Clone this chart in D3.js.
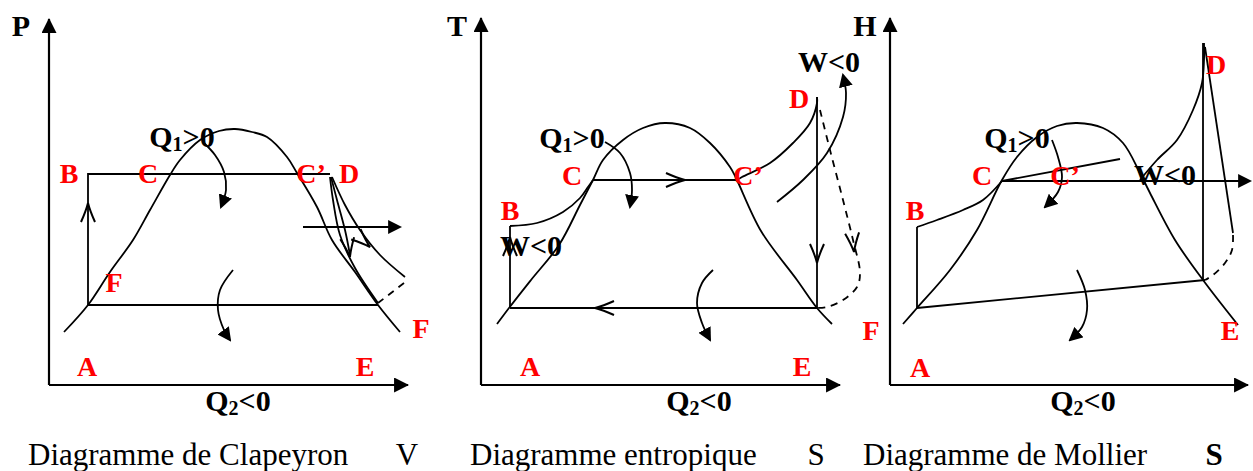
<!DOCTYPE html>
<html><head><meta charset="utf-8">
<script src="https://cdn.jsdelivr.net/npm/d3@7"></script>
<style>html,body{margin:0;padding:0;background:#fff;overflow:hidden}</style>
</head><body>
<svg id="c" width="1253" height="471"></svg>
<script>
// ---------- DATA (each panel in its own units: x from vertical axis, y up from horizontal axis) ----------
const axisNames = [["P","V"],["T","S"],["H","S"]];
const captions = ["Diagramme de Clapeyron","Diagramme entropique","Diagramme de Mollier"];
const axisExtent = [[359,366],[359,367],[358,367]];

// Clapeyron (P,V)
const clapDome = [[15,53],[39,80],[61,113],[84,145],[101,175],[121,210],[131,225],[151,245],[170,254],[186,256],[203,253],[218,248],[238,228],[248,212],[268,178],[283,145],[306,113],[329,80],[351,53]];
const clapCycle = [[39,80],[39,211],[281,211]];
const clapBottom = [[39,80],[329,80]];
const clapExpA = [[281,208],[284,185],[291,150],[306,117],[329,82]];
const clapExpB = [[282,208],[288,185],[296,155],[301,130]];
const clapExpC = [[283,208],[296,180],[311,155],[331,130],[356,108]];
const clapDash = [[355,102],[329,82]];
const clapWArrow = [[254,158],[351,158]];
const clapQ1Arrow = [[154,243],[166,230],[175,213],[177,195],[172,178]];
const clapQ2Arrow = [[184,115],[171,95],[169,75],[175,55],[181,45]];
const clapChev = [[39,182,0,1],[301,128,0.15,-1],[321,138,1,-0.9]];
const clapLabels = [["P",-28,349,"axis"],["B",20,202,"red"],["C",99,202,"red"],["C\u2019",262,202,"red"],["D",300,202,"red"],["F",65,93,"red"],["F",372,47,"red"],["A",38,9,"red"],["E",316,9,"red"],["Q|1|>0",133,238,"q"],["Q|2|<0",189,-26,"q"]];

// Entropique (T,S)
const entDome = [[16,61],[28,77],[50,105],[78,140],[99,180],[112,205],[122,225],[142,245],[162,257],[184,262],[209,257],[229,242],[249,218],[255,207],[280,154],[316,105],[336,77],[351,61]];
const entAB = [[29,77],[29,159]];
const entBC = [[29,159],[56,162],[82,173],[99,187],[107,198],[112,205]];
const entCC = [[112,205],[256,205]];
const entCD = [[256,205],[261,208],[289,222],[312,242],[329,262],[336,282],[336,288]];
const entDE = [[336,288],[336,77]];
const entEA = [[336,77],[29,77]];
const entDash = [[339,275],[349,235],[362,185],[372,145],[379,112],[376,98],[362,85],[346,78],[336,77]];
const entWArrow = [[296,183],[322,205],[346,232],[362,268],[365,292],[362,310]];
const entQ1Arrow = [[124,243],[139,232],[149,212],[151,195],[149,178]];
const entQ2Arrow = [[232,115],[221,102],[216,82],[221,62],[229,45]];
const entChev = [[204,205,1,0],[336,122,0,-1],[114,77,-1,0],[373,133,0.1,-1],[29,148,0,1]];
const entLabels = [["T",-24,349,"axis"],["W<0",348,313,"blk"],["D",318,277,"red"],["C",91,200,"red"],["C\u2019",267,200,"red"],["B",29,165,"red"],["W<0",50,129,"blk"],["A",49,9,"red"],["E",321,9,"red"],["Q|1|>0",91,237,"q"],["Q|2|<0",218,-26,"q"]];

// Mollier (H,S)
const molDome = [[13,61],[27,77],[60,115],[87,155],[112,205],[127,228],[147,248],[167,259],[187,262],[213,257],[233,242],[250,212],[260,192],[285,145],[313,105],[348,60]];
const molAB = [[27,77],[27,158]];
const molBC = [[27,158],[47,165],[73,175],[93,185],[112,204]];
const molHoriz = [[112,204],[360,204]];
const molSlant = [[112,204],[230,226]];
const molCD = [[250,205],[267,225],[287,245],[303,275],[312,302],[314,325],[314,342]];
const molVert = [[313,342],[313,105]];
const molDE = [[315,338],[343,152]];
const molDash = [[343,150],[342,135],[335,122],[323,110],[315,105]];
const molEA = [[27,77],[315,105]];
const molQ1Arrow = [[162,245],[168,228],[172,208],[168,193],[155,178]];
const molQ2Arrow = [[187,115],[195,95],[197,75],[192,58],[180,45]];
const molChev = [];
const molLabels = [["H",-25,349,"axis"],["D",326,311,"red"],["C",92,200,"red"],["C\u2019",175,200,"red"],["W<0",275,200,"blk"],["B",25,165,"red"],["F",-19,45,"red"],["E",340,45,"red"],["A",30,8,"red"],["Q|1|>0",127,237,"q"],["Q|2|<0",193,-26,"q"]];

// ---------- LAYOUT ----------
const W = 1253, H = 471;
const origins = [[49,385],[481,385],[890,385]];
const captionX = [28, 470, 863], varX = [407, 816, 1214], captionY = 465;
const FONT = "'Liberation Serif','Times New Roman',Times,serif";

const svg = d3.select("#c");
svg.append("rect").attr("width",W).attr("height",H).attr("fill","#fff");
const defs = svg.append("defs");
function mk(id, len, wid, ref){
  defs.append("marker").attr("id",id).attr("viewBox","0 0 10 10").attr("refX",ref).attr("refY",5)
    .attr("markerUnits","userSpaceOnUse").attr("markerWidth",len).attr("markerHeight",wid)
    .attr("preserveAspectRatio","none").attr("orient","auto")
    .append("path").attr("d","M0,0L10,5L0,10Z").attr("fill","#000");
}
mk("ax",15,15,9.3); mk("hd",14,14,8.5);

const panelPaths = [
  [{d:clapDome,c:1},{d:clapCycle},{d:clapBottom},{d:clapExpA,c:1},{d:clapExpB,c:1},{d:clapExpC,c:1},
   {d:clapDash,dash:1},{d:clapWArrow,head:1},{d:clapQ1Arrow,c:1,head:1},{d:clapQ2Arrow,c:1,head:1}],
  [{d:entDome,c:1},{d:entAB},{d:entBC,c:1},{d:entCC},{d:entCD,c:1},{d:entDE},{d:entEA},
   {d:entDash,c:1,dash:1},{d:entWArrow,c:1,head:1},{d:entQ1Arrow,c:1,head:1},{d:entQ2Arrow,c:1,head:1}],
  [{d:molDome,c:1},{d:molAB},{d:molBC,c:1},{d:molHoriz,head:1},{d:molSlant},{d:molCD,c:1},{d:molVert},
   {d:molDE},{d:molDash,c:1,dash:1},{d:molEA},{d:molQ1Arrow,c:1,head:1},{d:molQ2Arrow,c:1,head:1}]
];
const panelChev = [clapChev, entChev, molChev];
const panelLabels = [clapLabels, entLabels, molLabels];

panelPaths.forEach((paths, i) => {
  const [ox, oy] = origins[i];
  const [xm, ym] = axisExtent[i];
  const x = d3.scaleLinear().domain([0, xm]).range([ox, ox + xm]);
  const y = d3.scaleLinear().domain([0, ym]).range([oy, oy - ym]);
  const g = svg.append("g");
  // axes
  g.append("path").attr("d", d3.line().x(d=>x(d[0])).y(d=>y(d[1]))([[0,0],[0,ym]]))
    .attr("stroke","#000").attr("stroke-width",2.2).attr("fill","none").attr("marker-end","url(#ax)");
  g.append("path").attr("d", d3.line().x(d=>x(d[0])).y(d=>y(d[1]))([[0,0],[xm,0]]))
    .attr("stroke","#000").attr("stroke-width",2.2).attr("fill","none").attr("marker-end","url(#ax)");
  const curved = d3.line().x(d=>x(d[0])).y(d=>y(d[1])).curve(d3.curveCatmullRom.alpha(0.5));
  const straight = d3.line().x(d=>x(d[0])).y(d=>y(d[1]));
  paths.forEach(p => {
    const el = g.append("path").attr("d", (p.c ? curved : straight)(p.d))
      .attr("fill","none").attr("stroke","#000").attr("stroke-width",1.8);
    if (p.dash) el.attr("stroke-dasharray","7,6");
    if (p.head) el.attr("marker-end","url(#hd)");
  });
  // open barbed arrowheads on the cycle
  panelChev[i].forEach(([cx, cy, dx, dy]) => {
    const ang = Math.atan2(-dy, dx) * 180 / Math.PI;
    g.append("path").attr("transform",`translate(${x(cx)},${y(cy)}) rotate(${ang})`)
      .attr("d","M-19,-7 Q-8,-2 0,0 Q-8,2 -19,7")
      .attr("fill","none").attr("stroke","#000").attr("stroke-width",2);
  });
  // labels
  panelLabels[i].forEach(([t, lx, ly, kind]) => {
    const tx = g.append("text").attr("x", x(lx)).attr("y", y(ly))
      .attr("text-anchor","middle").attr("font-family",FONT).attr("font-weight","bold");
    if (kind === "red") {
      tx.attr("fill","#ff0000").attr("font-size",28).text(t);
    } else if (kind === "q") {
      const parts = t.split("|");
      tx.attr("fill","#000").attr("font-size",30);
      tx.append("tspan").text(parts[0]);
      tx.append("tspan").attr("font-size",20).attr("dy",4).text(parts[1]);
      tx.append("tspan").attr("dy",-4).text(parts[2]);
    } else {
      tx.attr("fill","#000").attr("font-size",30).text(t);
    }
  });
  // captions
  svg.append("text").attr("x",captionX[i]).attr("y",captionY).attr("font-family",FONT)
    .attr("font-size",31).attr("fill","#000").text(captions[i]);
  svg.append("text").attr("x",varX[i]).attr("y",captionY).attr("text-anchor","middle").attr("font-family",FONT)
    .attr("font-size",31).attr("font-weight", i===2 ? "bold" : "normal").attr("fill","#000").text(axisNames[i][1]);
});
</script>
</body></html>
